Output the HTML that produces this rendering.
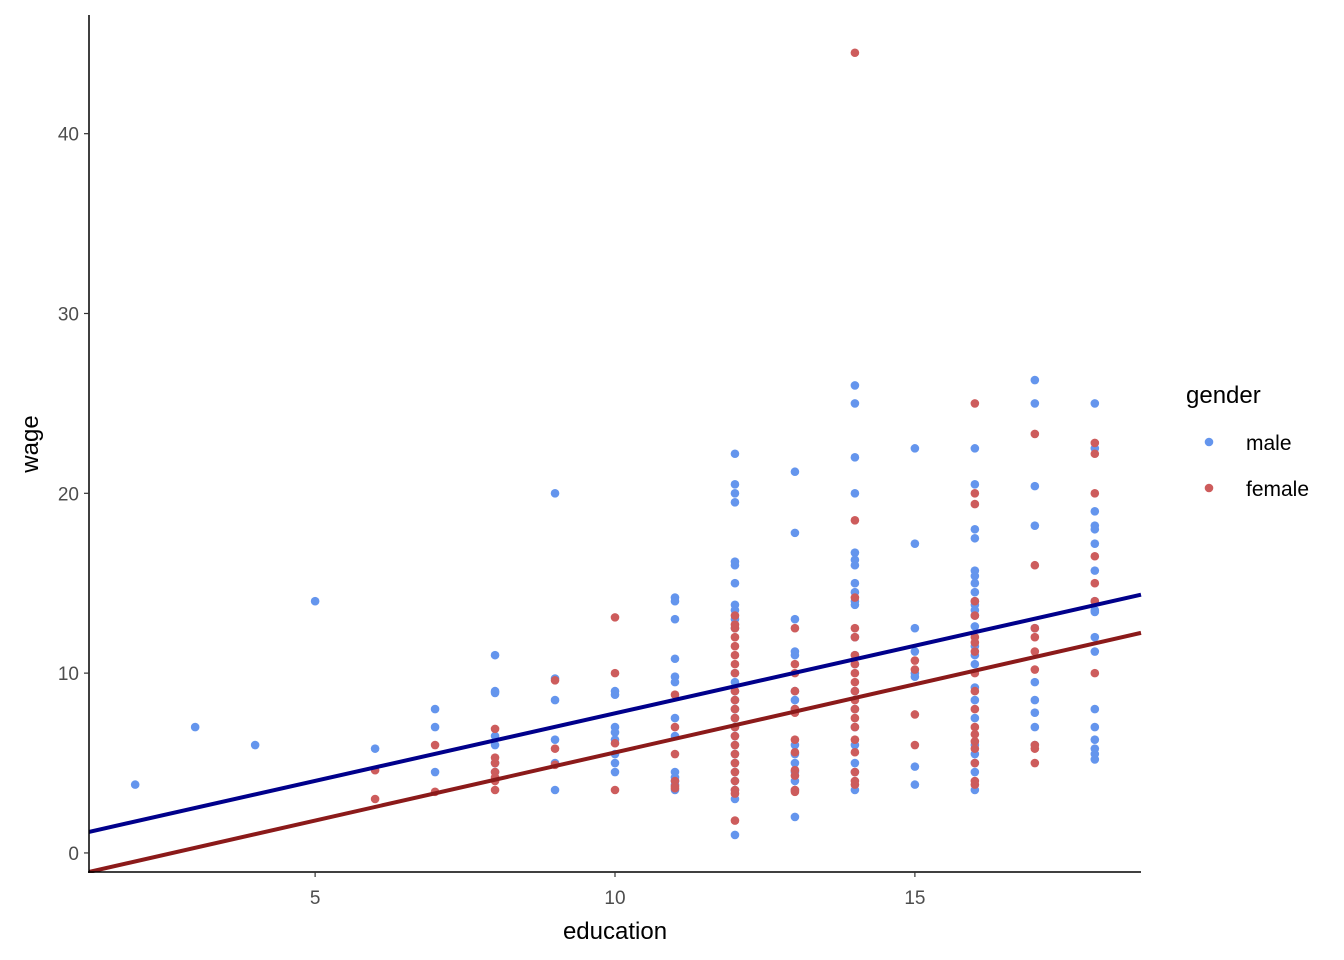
<!DOCTYPE html>
<html><head><meta charset="utf-8"><style>
html,body{margin:0;padding:0;background:#fff;}
svg{display:block;font-family:"Liberation Sans",Arial,sans-serif;}
</style></head><body>
<svg id="chart" width="1344" height="960"></svg>
<script>
const maleX=[2,3,4,5,6,7,7,7,8,8,8,8,8,8,8,9,9,9,9,9,9,10,10,10,10,10,10,10,10,
11,11,11,11,11,11,11,11,11,11,11,11,11,
12,12,12,12,12,12,12,12,12,12,12,12,12,12,12,12,12,12,12,12,12,12,12,12,12,12,12,
13,13,13,13,13,13,13,13,13,13,13,13,13,13,13,
14,14,14,14,14,14,14,14,14,14,14,14,14,14,14,14,14,14,14,14,14,
15,15,15,15,15,15,15,15,
16,16,16,16,16,16,16,16,16,16,16,16,16,16,16,16,16,16,16,16,16,16,16,16,
17,17,17,17,17,17,17,17,17,17,
18,18,18,18,18,18,18,18,18,18,18,18,18,18,18,18,18,18];
const maleY=[3.8,7.0,6.0,14.0,5.8,8.0,7.0,4.5,11.0,9.0,8.9,6.5,6.0,5.0,4.5,20.0,9.7,8.5,6.3,5.0,3.5,9.0,8.8,7.0,6.7,6.3,5.5,5.0,4.5,
14.2,14.0,13.0,10.8,9.8,9.5,7.5,6.5,4.5,4.2,4.0,3.8,3.5,
22.2,20.5,20.0,19.5,16.2,16.0,15.0,13.8,13.5,13.0,12.5,10.0,9.5,9.0,8.5,8.0,7.5,7.0,6.5,6.0,5.5,5.0,4.5,4.0,3.5,3.0,1.0,
21.2,17.8,13.0,11.2,11.0,9.0,8.5,8.0,6.0,5.5,5.0,4.5,4.0,3.5,2.0,
26.0,25.0,22.0,20.0,16.7,16.3,16.0,15.0,14.5,14.0,13.8,12.0,11.0,10.5,9.0,8.0,7.0,6.0,5.0,4.5,3.5,
22.5,17.2,12.5,11.2,10.0,9.8,4.8,3.8,
22.5,20.5,18.0,17.5,15.7,15.4,15.0,14.5,14.0,13.8,13.5,13.2,12.6,11.5,11.0,10.5,9.2,8.5,7.5,6.0,5.5,5.0,4.5,3.5,
26.3,25.0,20.4,18.2,12.5,9.5,8.5,7.8,7.0,6.0,
25.0,22.5,19.0,18.2,18.0,17.2,15.7,14.0,13.5,13.4,12.0,11.2,8.0,7.0,6.3,5.8,5.5,5.2];
const femaleX=[6,6,7,7,8,8,8,8,8,8,8,9,9,9,10,10,10,10,11,11,11,11,11,11,
12,12,12,12,12,12,12,12,12,12,12,12,12,12,12,12,12,12,12,12,12,12,
13,13,13,13,13,13,13,13,13,13,13,13,
14,14,14,14,14,14,14,14,14,14,14,14,14,14,14,14,14,14,14,
15,15,15,15,
16,16,16,16,16,16,16,16,16,16,16,16,16,16,16,16,16,16,
17,17,17,17,17,17,17,17,17,
18,18,18,18,18,18,18];
const femaleY=[4.6,3.0,6.0,3.4,6.9,5.3,5.0,4.5,4.2,4.0,3.5,9.6,5.8,4.9,13.1,10.0,6.1,3.5,8.8,7.0,5.5,4.0,3.7,3.6,
13.2,12.7,12.5,12.0,11.5,11.0,10.5,10.0,9.0,8.5,8.0,7.5,7.0,6.5,6.0,5.5,5.0,4.5,4.0,3.5,3.3,1.8,
12.5,10.5,10.0,9.0,8.0,7.8,6.3,5.6,4.6,4.3,3.5,3.4,
44.5,18.5,14.2,12.5,12.0,11.0,10.5,10.0,9.5,9.0,8.5,8.0,7.5,7.0,6.3,5.6,4.5,4.0,3.8,
10.7,10.2,7.7,6.0,
25.0,20.0,19.4,14.0,13.2,12.0,11.7,11.2,10.0,9.0,8.0,7.0,6.6,6.2,5.8,5.0,4.0,3.8,
23.3,16.0,12.5,12.0,11.2,10.2,6.0,5.8,5.0,
22.8,22.2,20.0,16.5,15.0,14.0,10.0];
const lineIntercepts=[0.245,-1.99];
const lineSlope=[0.752,0.758];
const xTicks=[5,10,15];
const yTicks=[0,10,20,30,40];

const L=89,R=1141,T=15,B=872;
const xMin=1.23,xMax=18.77,yMin=-1.06,yMax=46.6;
const sx=v=>L+(v-xMin)/(xMax-xMin)*(R-L);
const sy=v=>B-(v-yMin)/(yMax-yMin)*(B-T);
const svg=document.getElementById('chart');
const NS='http://www.w3.org/2000/svg';
function mk(tag,attrs,parent){const e=document.createElementNS(NS,tag);for(const k in attrs)e.setAttribute(k,attrs[k]);(parent||svg).appendChild(e);return e;}

const pts=mk('g',{});


maleX.forEach((x,i)=>{const c=mk('circle',{cx:sx(x),cy:sy(maleY[i]),r:4.3,fill:'#6495ED'},pts);

});
femaleX.forEach((x,i)=>{const c=mk('circle',{cx:sx(x),cy:sy(femaleY[i]),r:4.3,fill:'#CD5C5C'},pts);

});

const lineColors=['#00008B','#8B1A1A'];
const lineNames=['male-fit-line','female-fit-line'];
lineIntercepts.forEach((b,i)=>{
  const y1=b+lineSlope[i]*xMin,y2=b+lineSlope[i]*xMax;
  const ln=mk('line',{x1:L,y1:sy(y1),x2:R,y2:sy(y2),stroke:lineColors[i],'stroke-width':4});
  
  
});
const ax=mk('g',{});


mk('rect',{x:0,y:B+1,width:1344,height:100,fill:'#fff'},ax);
mk('rect',{x:0,y:0,width:L-1,height:960,fill:'#fff'},ax);
mk('line',{x1:L,y1:T,x2:L,y2:B+1,stroke:'#000','stroke-width':1.5},ax);
mk('line',{x1:L-1,y1:B,x2:R,y2:B,stroke:'#000','stroke-width':1.5},ax);
xTicks.forEach(t=>{
  mk('line',{x1:sx(t),y1:B,x2:sx(t),y2:B+5,stroke:'#333','stroke-width':1.2},ax);
  const tx=mk('text',{x:sx(t),y:B+32,'text-anchor':'middle','font-size':19,fill:'#4d4d4d'},ax);
  tx.textContent=t;
  
  
});
yTicks.forEach(t=>{
  mk('line',{x1:L-5,y1:sy(t),x2:L,y2:sy(t),stroke:'#333','stroke-width':1.2},ax);
  const tx=mk('text',{x:L-10,y:sy(t)+7,'text-anchor':'end','font-size':19,fill:'#4d4d4d'},ax);
  tx.textContent=t;
  
  
});
const xt=mk('text',{x:615,y:939,'text-anchor':'middle','font-size':24,fill:'#000'});
xt.textContent='education';


const yt=mk('text',{x:38,y:444,'text-anchor':'middle','font-size':24,fill:'#000',transform:'rotate(-90 38 444)'});
yt.textContent='wage';



const lg=mk('g',{});


const lt=mk('text',{x:1186,y:403,'font-size':24,fill:'#000'},lg);
lt.textContent='gender';


[['male','#6495ED',442],['female','#CD5C5C',488]].forEach(([n,c,y])=>{
  const g=mk('g',{},lg);
  
  
  mk('circle',{cx:1209,cy:y,r:4.3,fill:c},g);
  const t=mk('text',{x:1246,y:y+8,'font-size':21,fill:'#000'},g);
  t.textContent=n;
});
</script>
</body></html>
